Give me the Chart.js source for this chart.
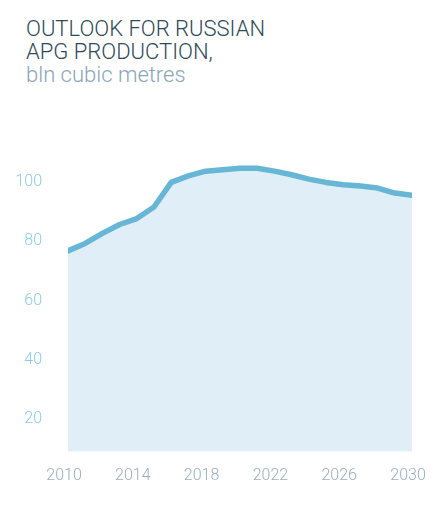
<!DOCTYPE html>
<html>
<head>
<meta charset="utf-8">
<script src="https://cdn.jsdelivr.net/npm/chart.js@4"></script>
<style>
  html, body { margin: 0; padding: 0; background: #fff; }
  #wrap { position: relative; width: 445px; height: 505px; }
  #title { position: absolute; left: 26px; top: 17px; font-family: Roboto, sans-serif; font-weight: 300; font-size: 22px; line-height: 23px; color: #2e4a57; }
  #title .sub { color: #8aa5b5; }
  canvas { position: absolute; left: 0; top: 0; }
</style>
</head>
<body>
<div id="wrap">
  <div id="title">OUTLOOK FOR RUSSIAN<br>APG PRODUCTION,<br><span class="sub">bln cubic metres</span></div>
  <canvas id="myChart" width="445" height="505"></canvas>
</div>
<script>
const years = [2010, 2011, 2012, 2013, 2014, 2015, 2016, 2017, 2018, 2019, 2020,
               2021, 2022, 2023, 2024, 2025, 2026, 2027, 2028, 2029, 2030];
const production = [76.8, 79.3, 82.7, 85.7, 87.7, 91.6, 99.9, 102.1, 103.7, 104.2, 104.7,
                    104.7, 103.7, 102.5, 101.0, 99.9, 99.1, 98.7, 98.0, 96.3, 95.6];
const xTicks = [2010, 2014, 2018, 2022, 2026, 2030];
const yTicks = [20, 40, 60, 80, 100];

const ctx = document.getElementById('myChart');

new Chart(ctx, {
  type: 'line',
  data: {
    datasets: [{
      data: years.map((y, i) => ({ x: y, y: production[i] })),
      borderColor: '#68b6d6',
      backgroundColor: '#e0eff7',
      borderWidth: 5.5,
      borderCapStyle: 'round',
      borderJoinStyle: 'round',
      pointRadius: 0,
      tension: 0,
      fill: 'start',
    }],
  },
  options: {
    responsive: false,
    animation: false,
    layout: { padding: { top: 152.5, right: 33, left: 0, bottom: 0 } },
    plugins: { legend: { display: false }, tooltip: { enabled: false } },
    scales: {
      x: {
        type: 'linear',
        min: 2010,
        max: 2030,
        grid: { display: false, drawTicks: false },
        border: { display: false },
        afterBuildTicks: (s) => { s.ticks = xTicks.map(v => ({ value: v })); },
        afterFit: (s) => { s.height = 53.3; },
        ticks: {
          color: '#9aafbd',
          font: { family: 'Roboto', size: 16, weight: 300 },
          padding: 15,
          labelOffset: -4,
          maxRotation: 0,
          callback: (v) => String(v),
        },
      },
      y: {
        min: 9,
        max: 110,
        grid: { display: false, drawTicks: false },
        border: { display: false },
        afterBuildTicks: (s) => { s.ticks = yTicks.map(v => ({ value: v })); },
        afterFit: (s) => { s.width = 68; },
        ticks: {
          color: '#8ccbe3',
          font: { family: 'Roboto', size: 16, weight: 300 },
          padding: 26,
        },
      },
    },
  },
});
</script>
</body>
</html>
